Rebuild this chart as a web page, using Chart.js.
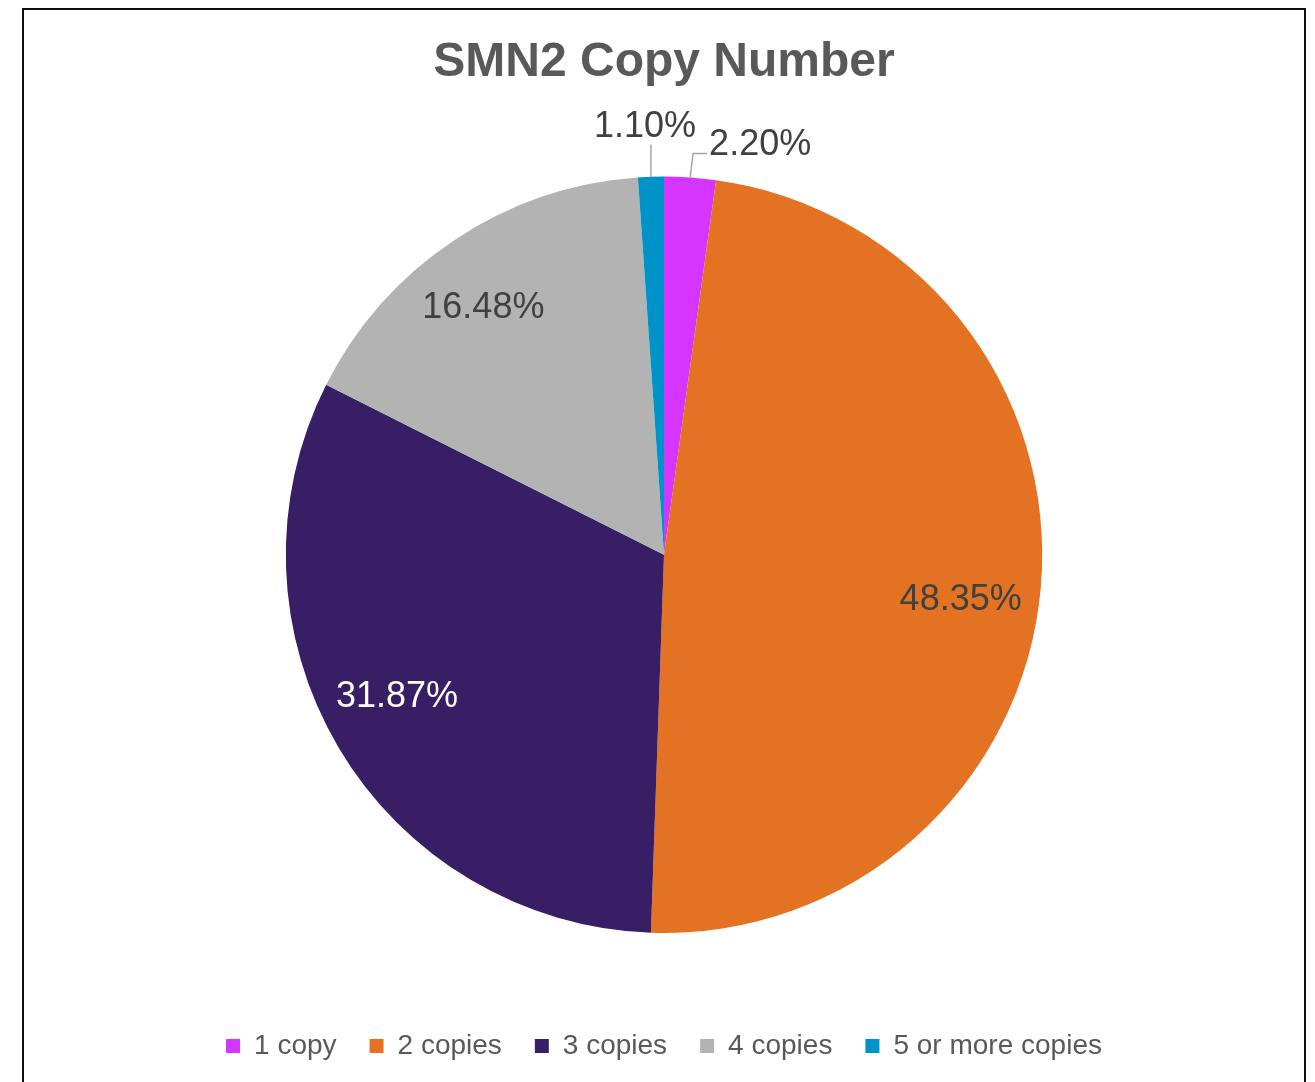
<!DOCTYPE html>
<html>
<head>
<meta charset="utf-8">
<script src="https://cdn.jsdelivr.net/npm/chart.js@4/dist/chart.umd.min.js"></script>
<style>
  html, body { margin: 0; padding: 0; background: #fff; overflow: hidden; }
  #frame {
    position: absolute; left: 22px; top: 8px;
    width: 1280px; height: 1100px;
    border: 2px solid #111;
  }
  #wrap { position: absolute; left: 0; top: 0; width: 1280px; height: 1072px; }
</style>
</head>
<body>
<div id="frame"><div id="wrap"><canvas id="chart-pie"></canvas></div></div>
<script>
// slice names
const categories = ['1 copy', '2 copies', '3 copies', '4 copies', '5 or more copies'];
// share of patients, percent
const shares = [2.20, 48.35, 31.87, 16.48, 1.10];
// printed labels
const shareLabels = ['2.20%', '48.35%', '31.87%', '16.48%', '1.10%'];

const colors = ['#D535FF', '#E37222', '#381E64', '#B3B3B3', '#0093C9'];
const labelColors = ['#404040', '#404040', '#FFFFFF', '#404040', '#404040'];
// inside = radius fraction (+ small nudge), outside = leader line
const labelStyle = [
    { outside: true, rise: 24, run: 14, bend: 3 },
    { inside: 0.79, dx: -1, dy: 19 },
    { inside: 0.79, dx: -10, dy: -10 },
    { inside: 0.81, dx: -11, dy: 8 },
    { outside: true, rise: 32, run: 0, bend: 0 }
];

const FONT = '"Liberation Sans", Arial, sans-serif';

const sliceLabels = {
    id: 'sliceLabels',
    afterDatasetsDraw(chart) {
        const ctx = chart.ctx;
        const meta = chart.getDatasetMeta(0);
        ctx.save();
        ctx.font = '36px ' + FONT;
        meta.data.forEach((arc, i) => {
            const mid = (arc.startAngle + arc.endAngle) / 2;
            const r = arc.outerRadius;
            const st = labelStyle[i];
            ctx.fillStyle = labelColors[i];
            if (st.inside) {
                ctx.textAlign = 'center';
                ctx.textBaseline = 'middle';
                ctx.fillText(shareLabels[i],
                    arc.x + Math.cos(mid) * r * st.inside + st.dx,
                    arc.y + Math.sin(mid) * r * st.inside + st.dy);
            } else {
                const x0 = arc.x + Math.cos(mid) * r;
                const y0 = arc.y + Math.sin(mid) * r;
                const x1 = x0 + st.bend;
                const y1 = y0 - st.rise;
                ctx.strokeStyle = '#A6A6A6';
                ctx.lineWidth = 1.5;
                ctx.beginPath();
                ctx.moveTo(x0, y0);
                ctx.lineTo(x1, y1);
                if (st.run) ctx.lineTo(x1 + st.run, y1);
                ctx.stroke();
                ctx.textBaseline = 'alphabetic';
                if (st.run) {
                    ctx.textAlign = 'left';
                    ctx.fillText(shareLabels[i], x1 + st.run + 2, y1 + 1);
                } else {
                    ctx.textAlign = 'center';
                    ctx.fillText(shareLabels[i], x1 - 6, y1 - 8);
                }
            }
        });
        ctx.restore();
    }
};

const config = {
    type: 'pie',
    data: {
        labels: categories,
        datasets: [
            {
                data: shares,
                backgroundColor: colors,
                borderWidth: 0
            }
        ]
    },
    options: {
        responsive: true,
        maintainAspectRatio: false,
        animation: false,
        layout: {
            padding: { left: 0, right: 0, top: 0, bottom: 12 }
        },
        plugins: {
            title: {
                display: true,
                text: 'SMN2 Copy Number',
                color: '#595959',
                font: { family: FONT, size: 48, weight: 'bold' },
                padding: { top: 24, bottom: 85 }
            },
            legend: {
                position: 'bottom',
                title: {
                    display: true,
                    text: ' ',
                    font: { family: FONT, size: 10 },
                    padding: { top: 54, bottom: 0 }
                },
                labels: {
                    color: '#595959',
                    font: { family: FONT, size: 28 },
                    boxWidth: 14,
                    boxHeight: 14,
                    padding: 33
                }
            },
            tooltip: { enabled: false }
        }
    },
    plugins: [sliceLabels]
};

const chart = new Chart(document.getElementById('chart-pie'), config);
</script>
</body>
</html>
